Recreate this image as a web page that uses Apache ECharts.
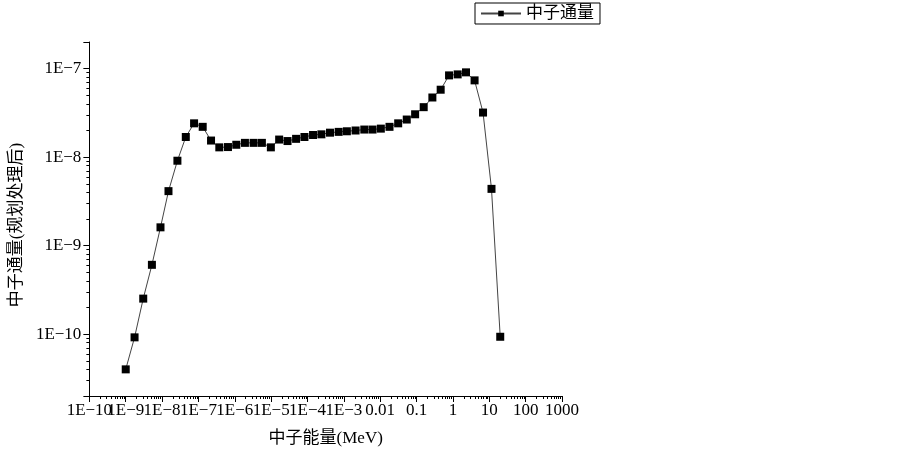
<!DOCTYPE html>
<html>
<head>
<meta charset="utf-8">
<title>中子通量</title>
<script src="https://cdn.jsdelivr.net/npm/echarts@6/dist/echarts.min.js"></script>
<style>
    html, body { margin: 0; padding: 0; background: #fff; }
    #main { width: 903px; height: 453px; }
</style>
</head>
<body>
<div id="main"></div>
<script>
// 中子能量 (MeV)
var energy = [
    1.0e-9, 1.75e-9, 3.03e-9, 5.25e-9, 9.04e-9, 1.50e-8, 2.64e-8, 4.49e-8, 7.59e-8,
    1.31e-7, 2.22e-7, 3.75e-7, 6.49e-7, 1.10e-6, 1.90e-6, 3.29e-6, 5.56e-6, 9.82e-6,
    1.66e-5, 2.82e-5, 4.85e-5, 8.24e-5, 1.42e-4, 2.41e-4, 4.15e-4, 7.19e-4,
    1.21e-3, 2.10e-3, 3.65e-3, 6.15e-3, 1.04e-2, 1.80e-2, 3.12e-2, 5.37e-2, 9.12e-2,
    0.157, 0.272, 0.460, 0.782, 1.35, 2.29, 3.94, 6.73, 11.5, 20.0
];
// 中子通量(规划处理后)
var flux = [
    4.0e-11, 9.2e-11, 2.52e-10, 6.07e-10, 1.61e-9, 4.13e-9, 9.11e-9, 1.69e-8, 2.41e-8,
    2.20e-8, 1.54e-8, 1.29e-8, 1.30e-8, 1.38e-8, 1.45e-8, 1.45e-8, 1.45e-8, 1.29e-8,
    1.58e-8, 1.52e-8, 1.61e-8, 1.69e-8, 1.78e-8, 1.81e-8, 1.89e-8, 1.93e-8,
    1.96e-8, 2.00e-8, 2.05e-8, 2.05e-8, 2.10e-8, 2.20e-8, 2.41e-8, 2.66e-8, 3.05e-8,
    3.67e-8, 4.72e-8, 5.78e-8, 8.39e-8, 8.61e-8, 9.08e-8, 7.37e-8, 3.19e-8, 4.38e-9, 9.34e-11
];

// 刻度标签 (指数 -> 文本)
var xExponents = [-10, -9, -8, -7, -6, -5, -4, -3, -2, -1, 0, 1, 2, 3];
var xTickLabels = ['1E\u221210', '1E\u22129', '1E\u22128', '1E\u22127', '1E\u22126', '1E\u22125', '1E\u22124',
    '1E\u22123', '0.01', '0.1', '1', '10', '100', '1000'];
var yExponents = [-10, -9, -8, -7];
var yTickLabels = ['1E\u221210', '1E\u22129', '1E\u22128', '1E\u22127'];

var fontFam = "'Liberation Serif', 'Noto Sans CJK SC', serif";

function labelOf(v, exps, labels) {
    var lg = Math.log(v) / Math.LN10;
    var e = Math.round(lg);
    if (Math.abs(lg - e) > 1e-6) return '';
    var idx = exps.indexOf(e);
    return idx < 0 ? '' : labels[idx];
}

var points = [];
for (var i = 0; i < energy.length; i++) {
    points.push([energy[i], flux[i]]);
}

var myChart = echarts.init(document.getElementById('main'), null, { renderer: 'canvas' });

// 两个x轴共用同一位置: 第二个只画最左边的 1E-10 标签 (避免与 1E-9 重叠时被自动隐藏)
var xAxisBase = {
    type: 'log',
    logBase: 10,
    min: 1e-10,
    max: 1000,
    interval: 1,
    splitLine: { show: false }
};

var option = {
    animation: false,
    backgroundColor: '#fff',
    textStyle: { fontFamily: fontFam, color: '#000' },
    legend: {
        left: 475,
        top: 3,
        padding: [2, 6, 2, 5],
        borderColor: '#000',
        borderWidth: 1,
        borderRadius: 0,
        itemWidth: 40,
        itemHeight: 7,
        itemGap: 10,
        textStyle: { fontSize: 17, color: '#000', fontFamily: fontFam },
        data: ['中子通量']
    },
    grid: {
        left: 88,
        right: 341,
        top: 42,
        bottom: 57,
        containLabel: false
    },
    xAxis: [
        echarts.util.merge({
            name: '中子能量(MeV)',
            nameLocation: 'middle',
            nameGap: 34,
            nameTextStyle: { fontSize: 17, color: '#000', fontFamily: fontFam },
            axisLine: { lineStyle: { color: '#000', width: 1 } },
            axisTick: { show: true, inside: false, length: 6, lineStyle: { color: '#000' } },
            minorTick: { show: true, splitNumber: 9, length: 3, lineStyle: { color: '#000' } },
            axisLabel: {
                fontSize: 17,
                color: '#000',
                margin: 6,
                fontFamily: fontFam,
                formatter: function(v) {
                    var s = labelOf(v, xExponents, xTickLabels);
                    return s === xTickLabels[0] ? '' : s;
                }
            }
        }, xAxisBase, true),
        echarts.util.merge({
            position: 'bottom',
            axisLine: { show: false },
            axisTick: { show: false },
            minorTick: { show: false },
            axisLabel: {
                fontSize: 17,
                color: '#000',
                margin: 6,
                showMinLabel: true,
                fontFamily: fontFam,
                formatter: function(v) {
                    var s = labelOf(v, xExponents, xTickLabels);
                    return s === xTickLabels[0] ? s : '';
                }
            }
        }, xAxisBase, true)
    ],
    yAxis: {
        type: 'log',
        logBase: 10,
        min: 2e-11,
        max: 2e-7,
        name: '中子通量(规划处理后)',
        nameLocation: 'middle',
        nameGap: 50,
        nameRotate: 90,
        nameTextStyle: { fontSize: 17, color: '#000', fontFamily: fontFam, padding: [0, 12, 0, 0] },
        splitLine: { show: false },
        axisLine: { show: true, lineStyle: { color: '#000', width: 1 } },
        axisTick: { show: true, inside: false, length: 6, lineStyle: { color: '#000' } },
        minorTick: { show: true, splitNumber: 9, length: 3, lineStyle: { color: '#000' } },
        axisLabel: {
            fontSize: 17,
            color: '#000',
            margin: 8,
            fontFamily: fontFam,
            formatter: function(v) { return labelOf(v, yExponents, yTickLabels); }
        }
    },
    series: [{
        name: '中子通量',
        type: 'line',
        xAxisIndex: 0,
        symbol: 'rect',
        symbolSize: 8,
        itemStyle: { color: '#000' },
        lineStyle: { color: '#444', width: 1 },
        data: points
    }]
};

myChart.setOption(option);
</script>
</body>
</html>
